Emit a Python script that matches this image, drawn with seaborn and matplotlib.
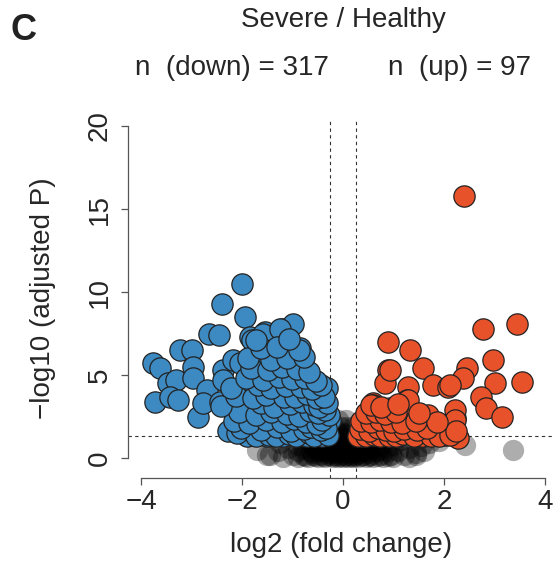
import numpy as np
import pandas as pd
import matplotlib
matplotlib.use("Agg")
import matplotlib.pyplot as plt
import seaborn as sns

# ---------------- data ----------------
down_x = [-2.00, -2.40, -1.94, -2.66, -2.46, -3.23, -3.00, -3.77, -3.63, -3.47, -3.31,
          -3.73, -3.43, -3.27, -2.98, -2.98, -2.88, -2.70, -2.78, -2.44, -2.28, -1.90,
          -2.38, -2.38, -2.24, -2.18, -1.85, -1.55, -1.21, -0.99, -1.65, -1.98, -1.45,
          -1.31, -1.05, -0.79, -0.71, -0.62, -0.40, -0.42, -1.51, -1.19, -0.85,
          -1.59, -1.25, -1.81, -1.01, -0.85, -2.04, -1.19, -0.69, -0.60, -0.32, -1.71,
          -0.85, -0.46, -2.10, -0.91, -1.90, -0.26, -0.71, -1.19,
          -1.72, -1.47, -1.33, -1.08, -0.93, -0.68, -0.57, -0.30,
          -2.02, -1.62, -1.31, -1.03, -0.78, -0.63, -0.44, -0.33,
          -2.17, -1.86, -1.53, -1.22, -0.97, -0.73, -0.52, -0.41, -0.27,
          -2.07, -1.73, -1.42, -1.12, -0.88, -0.66, -0.49, -0.36,
          -2.42, -1.63, -1.37, -1.06, -0.82, -0.58, -0.47, -0.31,
          -2.12, -1.78, -1.52, -1.18, -0.96, -0.72, -0.51, -0.37,
          -2.22, -1.68, -1.43, -1.13, -0.84, -0.62, -0.44,
          -1.93, -1.58, -1.28, -1.02, -0.76, -0.53,
          -1.82, -1.48, -1.22, -0.92, -0.67,
          -1.88, -1.42, -1.12, -0.78,
          -1.62, -1.32, -0.88,
          -1.73, -1.08]
down_y = [10.5, 9.3, 8.5, 7.5, 7.4, 6.5, 6.5, 5.7, 5.4, 4.5, 4.7,
          3.4, 3.7, 3.5, 5.5, 4.8, 2.5, 4.1, 3.3, 3.4, 1.6, 1.3,
          5.3, 4.7, 3.1, 5.9, 7.3, 7.6, 7.8, 8.1, 6.1, 4.2, 4.9,
          3.9, 6.1, 5.9, 4.5, 3.5, 2.9, 1.3, 1.3, 2.7, 1.7,
          7.5, 7.8, 7.1, 6.2, 6.6, 5.7, 5.3, 4.6, 3.6, 4.2, 3.1,
          3.0, 2.2, 1.5, 1.9, 2.3, 2.3, 1.3, 1.3,
          1.35, 1.4, 1.3, 1.45, 1.3, 1.5, 1.35, 1.4,
          1.8, 1.7, 1.85, 1.65, 1.75, 1.9, 1.7, 1.8,
          2.25, 2.1, 2.3, 2.15, 2.35, 2.2, 2.05, 2.3, 2.6,
          2.75, 2.6, 2.8, 2.65, 2.55, 2.85, 2.7, 2.9,
          3.15, 3.3, 3.1, 3.25, 3.35, 3.2, 3.05, 3.3,
          3.75, 3.6, 3.8, 3.65, 3.7, 3.85, 3.6, 3.7,
          4.25, 4.4, 4.2, 4.35, 4.3, 4.15, 4.4,
          4.85, 4.7, 4.9, 4.75, 4.8, 4.65,
          5.45, 5.3, 5.5, 5.35, 5.2,
          6.05, 5.9, 6.0, 6.1,
          6.6, 6.7, 6.5,
          7.1, 7.2]

up_x = [2.40, 2.78, 3.45, 2.98, 3.55, 3.02, 2.46, 2.38, 2.74, 2.84, 3.15,
        0.89, 1.33, 0.89, 1.59, 1.79, 2.08, 0.83, 1.29, 0.60, 0.93, 1.27, 1.69,
        2.22, 2.22, 0.40, 0.77, 1.29, 1.59, 2.02, 2.26, 0.34,
        0.93, 2.12, 0.60, 1.29, 2.22, 0.38, 1.29, 1.57, 2.28, 0.44, 1.13,
        0.30, 0.46, 0.61, 0.74, 0.91, 1.06, 1.19, 1.41, 1.74, 1.91, 2.12,
        0.33, 0.51, 0.69, 0.86, 1.01, 1.21, 1.46, 1.66, 2.24,
        0.36, 0.56, 0.74, 0.96, 1.16, 1.44, 1.86,
        0.46, 0.66, 0.84, 1.06, 1.51,
        0.56, 0.76, 1.09]
up_y = [15.8, 7.8, 8.1, 5.9, 4.6, 4.5, 5.4, 4.8, 3.7, 3.0, 2.5,
        7.0, 6.5, 5.3, 5.4, 4.4, 4.3, 4.5, 4.3, 3.3, 3.0, 3.5, 2.6,
        2.4, 2.9, 1.7, 1.4, 2.2, 1.3, 1.4, 1.3, 2.1,
        5.3, 4.4, 3.2, 3.5, 2.3, 1.3, 2.3, 1.3, 1.2, 2.2, 1.7,
        1.35, 1.3, 1.4, 1.3, 1.35, 1.3, 1.45, 1.3, 1.35, 1.3, 1.4,
        1.75, 1.65, 1.8, 1.7, 1.6, 1.75, 1.7, 1.8, 1.65,
        2.25, 2.15, 2.3, 2.2, 2.1, 2.25, 2.2,
        2.7, 2.8, 2.65, 2.75, 2.7,
        3.2, 3.1, 3.25]

ns_x = [-1.2, -0.9, -0.7, -0.5, -0.35, -0.2, -0.1, 0.0, 0.1, 0.2, 0.3, 0.45, 0.6, 0.8, 1.0, 1.3,
        -1.5, -1.0, -0.8, -0.6, -0.45, -0.3, -0.15, -0.05, 0.05, 0.15, 0.25, 0.4, 0.55, 0.75, 0.95, 1.2, 1.45,
        -1.3, -0.9, -0.65, -0.5, -0.35, -0.2, -0.1, 0.0, 0.1, 0.2, 0.35, 0.5, 0.7, 0.9, 1.1, 1.6,
        -1.1, -0.8, -0.55, -0.4, -0.25, -0.12, 0.0, 0.12, 0.25, 0.4, 0.6, 0.85, 1.3,
        -0.9, -0.6, -0.4, -0.2, -0.08, 0.05, 0.18, 0.3, 0.5, 0.75, 1.0,
        -0.7, -0.45, -0.25, -0.1, 0.02, 0.15, 0.3, 0.6,
        -0.5, -0.2, -0.05, 0.1, 0.2,
        -0.2, -0.1, 0.0, 0.1, 0.2,
        -0.18, -0.05, 0.08, 0.2,
        -0.1, 0.05,
        -0.6, -0.3, -0.15, 0.0, 0.15, 0.3, 0.5,
        -0.4, -0.2, 0.0, 0.2, 0.4,
        -0.75, -0.55, -0.38, -0.22, -0.08, 0.06, 0.2, 0.35, 0.52, 0.7, 0.9,
        -0.5, -0.3, -0.12, 0.05, 0.22, 0.4, 0.65,
        -0.35, -0.15, 0.0, 0.15, 0.32,
        -0.25, -0.05, 0.12, 0.28,
        1.45, 1.7, 2.42, 3.37, 1.9, -1.7, 1.55, -1.45, -1.25, 1.15]
ns_y = [0.05] * 16 + [0.2] * 17 + [0.4] * 16 + [0.6] * 13 + [0.8] * 11 + [1.0] * 8 + \
       [1.2] * 5 + [1.5] * 5 + [1.9] * 4 + [2.3] * 2 + [0.3] * 7 + [0.5] * 5 + \
       [0.1] * 11 + [0.45] * 7 + [0.7] * 5 + [0.9] * 4 + \
       [0.3, 0.9, 0.8, 0.5, 1.0, 0.5, 0.7, 0.2, 0.9, 1.1]

title = "Severe / Healthy"
n_down_label = "n  (down) = 317"
n_up_label = "n  (up) = 97"
x_ticks = [-4, -2, 0, 2, 4]
y_ticks = [0, 5, 10, 15, 20]
fc_cut = 0.25
p_cut = -np.log10(0.05)

df = pd.concat([
    pd.DataFrame({"lfc": ns_x, "p": ns_y, "grp": "ns"}),
    pd.DataFrame({"lfc": down_x, "p": down_y, "grp": "down"}),
    pd.DataFrame({"lfc": up_x, "p": up_y, "grp": "up"}),
], ignore_index=True)

# ---------------- plot ----------------
sns.set_style("white")
plt.rcParams["font.family"] = ["Liberation Sans", "DejaVu Sans"]

fig = plt.figure(figsize=(5.6, 5.62), dpi=100)
ax = fig.add_axes([0.2286, 0.1495, 0.762, 0.641])

blue = "#3D89C1"
red = "#E8522B"
size = 235
fs = 20

sns.scatterplot(data=df[df.grp == "ns"], x="lfc", y="p", color="black", alpha=0.32,
                s=size, linewidth=0, ax=ax, legend=False)
sns.scatterplot(data=df[df.grp == "down"], x="lfc", y="p", color=blue, s=size,
                edgecolor="#222222", linewidth=0.9, ax=ax, legend=False)
sns.scatterplot(data=df[df.grp == "up"], x="lfc", y="p", color=red, s=size,
                edgecolor="#222222", linewidth=0.9, ax=ax, legend=False)

ax.axvline(-fc_cut, color="#333333", lw=0.8, ls=(0, (3, 3)), zorder=0)
ax.axvline(fc_cut, color="#333333", lw=0.8, ls=(0, (3, 3)), zorder=0)
ax.axhline(p_cut, color="#333333", lw=0.8, ls=(0, (3, 3)), zorder=0)

ax.set_xlim(-4.266, 4.2)
ax.set_ylim(-1.2, 20.5)

for s in ["top", "right"]:
    ax.spines[s].set_visible(False)
ax.spines["left"].set_bounds(0, 20)
ax.spines["bottom"].set_bounds(-4, 4)
for s in ["left", "bottom"]:
    ax.spines[s].set_color("#555555")
    ax.spines[s].set_linewidth(0.9)

ax.set_xticks(x_ticks)
ax.set_yticks(y_ticks)
ax.set_xticklabels([f"{t}".replace("-", "\u2212") for t in x_ticks])
ax.set_yticklabels([str(t) for t in y_ticks], rotation=90, va="center")
ax.tick_params(axis="both", direction="out", length=5, width=0.9, color="#555555",
               labelsize=fs, left=True, bottom=True)
ax.tick_params(axis="y", pad=6)
ax.tick_params(axis="x", pad=3)

ax.set_xlabel("log2 (fold change)", fontsize=fs, labelpad=12)
ax.set_ylabel("\u2212log10 (adjusted P)", fontsize=fs, labelpad=22)

fig.text(343 / 560, 1 - 20 / 562, title, ha="center", va="center", fontsize=fs)
fig.text(232 / 560, 1 - 68 / 562, n_down_label, ha="center", va="center", fontsize=fs)
fig.text(459 / 560, 1 - 68 / 562, n_up_label, ha="center", va="center", fontsize=fs)
fig.text(10 / 560, 1 - 30 / 562, "C", ha="left", va="center", fontsize=26,
         fontweight="bold", color="#222222")

fig.savefig("out.png", dpi=100)
